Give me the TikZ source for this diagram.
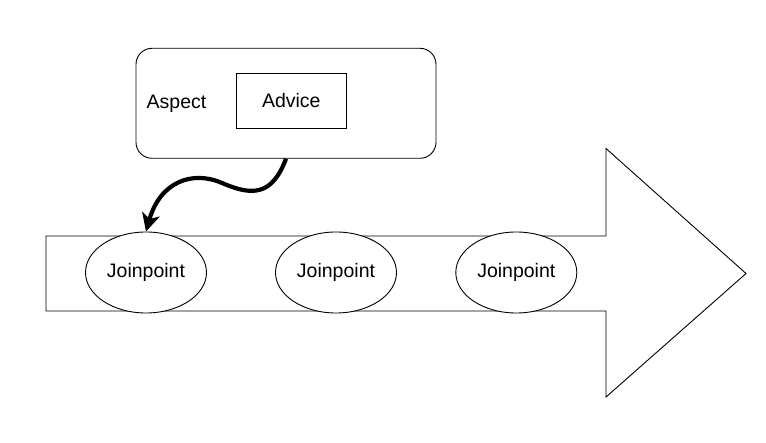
\documentclass[tikz,border=0pt]{standalone}
\usepackage{fontspec}
\setmainfont{Liberation Sans}
\usetikzlibrary{shapes.geometric,arrows.meta}
\begin{document}
\begin{tikzpicture}[x=1pt,y=-1pt,
  every node/.style={font=\fontsize{19.5}{22}\selectfont, inner sep=0pt},
  line/.style={draw=black, line width=0.9pt},
  jp/.style={line, ellipse, fill=white, minimum width=121pt, minimum height=81pt},
  box/.style={line, rectangle},
  flow/.style={line, line join=miter},
  conn/.style={draw=black, line width=4.2pt, -{Stealth[length=18pt,width=18pt,inset=5pt]}}
]
\useasboundingbox (0,0) rectangle (766,443);
% big process arrow
\draw[flow] (46,236) -- (606,236) -- (606,148.5) -- (746,273.5) -- (606,397) -- (606,311) -- (46,311) -- cycle;
% aspect
\node[box, rounded corners=16pt, minimum width=300pt, minimum height=110pt] (aspect) at (286,103.3) {};
\node (aspectlabel) at (176.5,103.5) {Aspect};
\node[box, minimum width=110.7pt, minimum height=55pt] (advice) at (291.3,100.8) {Advice};
% joinpoints
\node[jp] (jp1) at (146,272.5) {Joinpoint};
\node[jp] (jp2) at (336,272.5) {Joinpoint};
\node[jp] (jp3) at (516.3,272.5) {Joinpoint};
% wavy connector
\draw[conn] (aspect.south) .. controls (272,196) and (252,196) .. (222,183)
  .. controls (192,170) and (160,182) .. (jp1.north);
\end{tikzpicture}
\end{document}
